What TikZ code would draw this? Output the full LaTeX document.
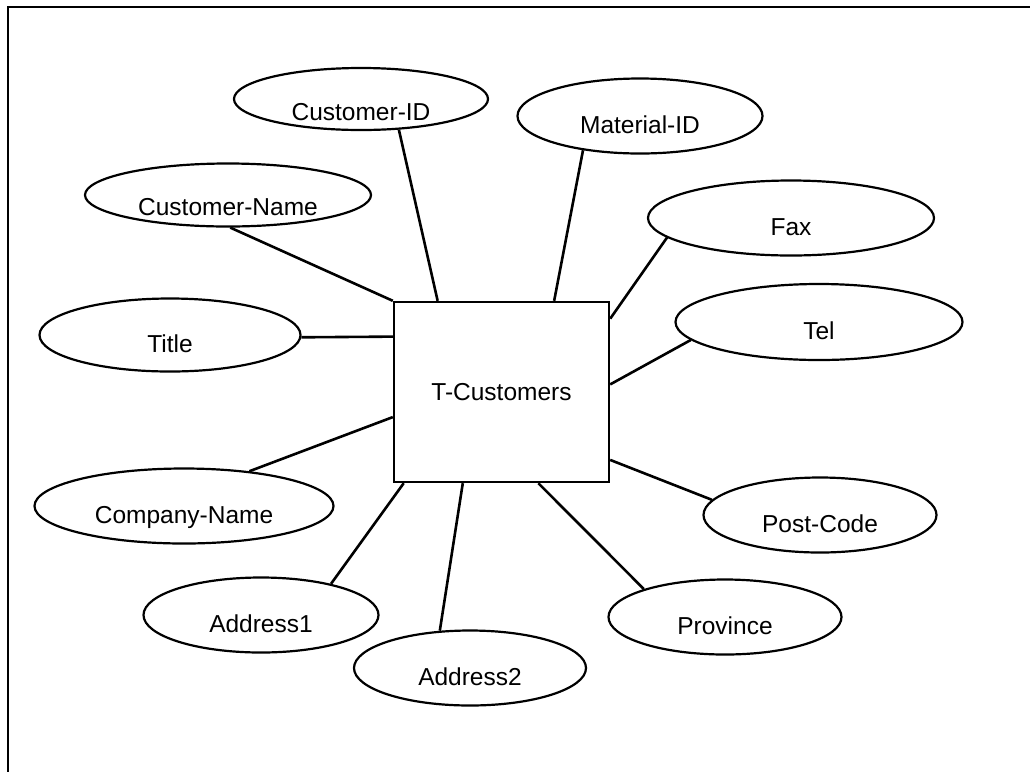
\documentclass[tikz,border=0pt]{standalone}
\usepackage{fontspec}
\setmainfont{Liberation Sans}
\usetikzlibrary{shapes.geometric}
\begin{document}
\begin{tikzpicture}[x=1pt,y=-1pt,
  attr/.style={ellipse, draw, line width=2.2pt, inner sep=0pt,
    text height=34pt, text depth=0pt, font=\fontsize{24.5}{29}\selectfont},
  ent/.style={rectangle, draw, line width=2.4pt, inner sep=0pt,
    minimum width=215pt, minimum height=180pt, font=\fontsize{24.5}{29}\selectfont},
  link/.style={line width=2.6pt}]
\useasboundingbox (0,0) rectangle (1030,772);
\draw[line width=2.2pt] (1030,7) -- (8,7) -- (8,772);

\node[ent] (box) at (501.5,392) {T-Customers};

\node[attr, minimum width=254pt, minimum height=62pt, text height=42pt] (cid) at (361,99) {Customer-ID};
\node[attr, minimum width=286pt, minimum height=63pt, text height=40pt] (cname) at (228,195) {Customer-Name};
\node[attr, minimum width=261pt, minimum height=73pt] (title) at (170,335) {Title};
\node[attr, minimum width=245pt, minimum height=75pt] (mid) at (640,116) {Material-ID};
\node[attr, minimum width=286pt, minimum height=75pt] (fax) at (791,218) {Fax};
\node[attr, minimum width=287pt, minimum height=76pt] (tel) at (819,322) {Tel};
\node[attr, minimum width=299pt, minimum height=75pt] (comp) at (184,506) {Company-Name};
\node[attr, minimum width=235pt, minimum height=75pt] (ad1) at (261,615) {Address1};
\node[attr, minimum width=232pt, minimum height=75pt] (ad2) at (470,668) {Address2};
\node[attr, minimum width=233pt, minimum height=75pt] (post) at (820,515) {Post-Code};
\node[attr, minimum width=233pt, minimum height=75pt] (prov) at (725,617) {Province};

\draw[link] (cid.-39) -- (box.125.5);
\draw[link] (cname.-86) -- (box.north west);
\draw[link] (title.-1) -- (box.153.3);
\draw[link] (mid.-149.6) -- (box.60.7);
\draw[link] (fax.-171.3) -- (box.34.5);
\draw[link] (tel.-172) -- (box.4.8);
\draw[link] (post.172.1) -- (box.-32.3);
\draw[link] (prov.161.8) -- (box.-68.5);
\draw[link] (ad2.129.6) -- (box.-113.7);
\draw[link] (ad1.24.8) -- (box.-137.6);
\draw[link] (comp.28.9) -- (box.-167.9);
\end{tikzpicture}
\end{document}
